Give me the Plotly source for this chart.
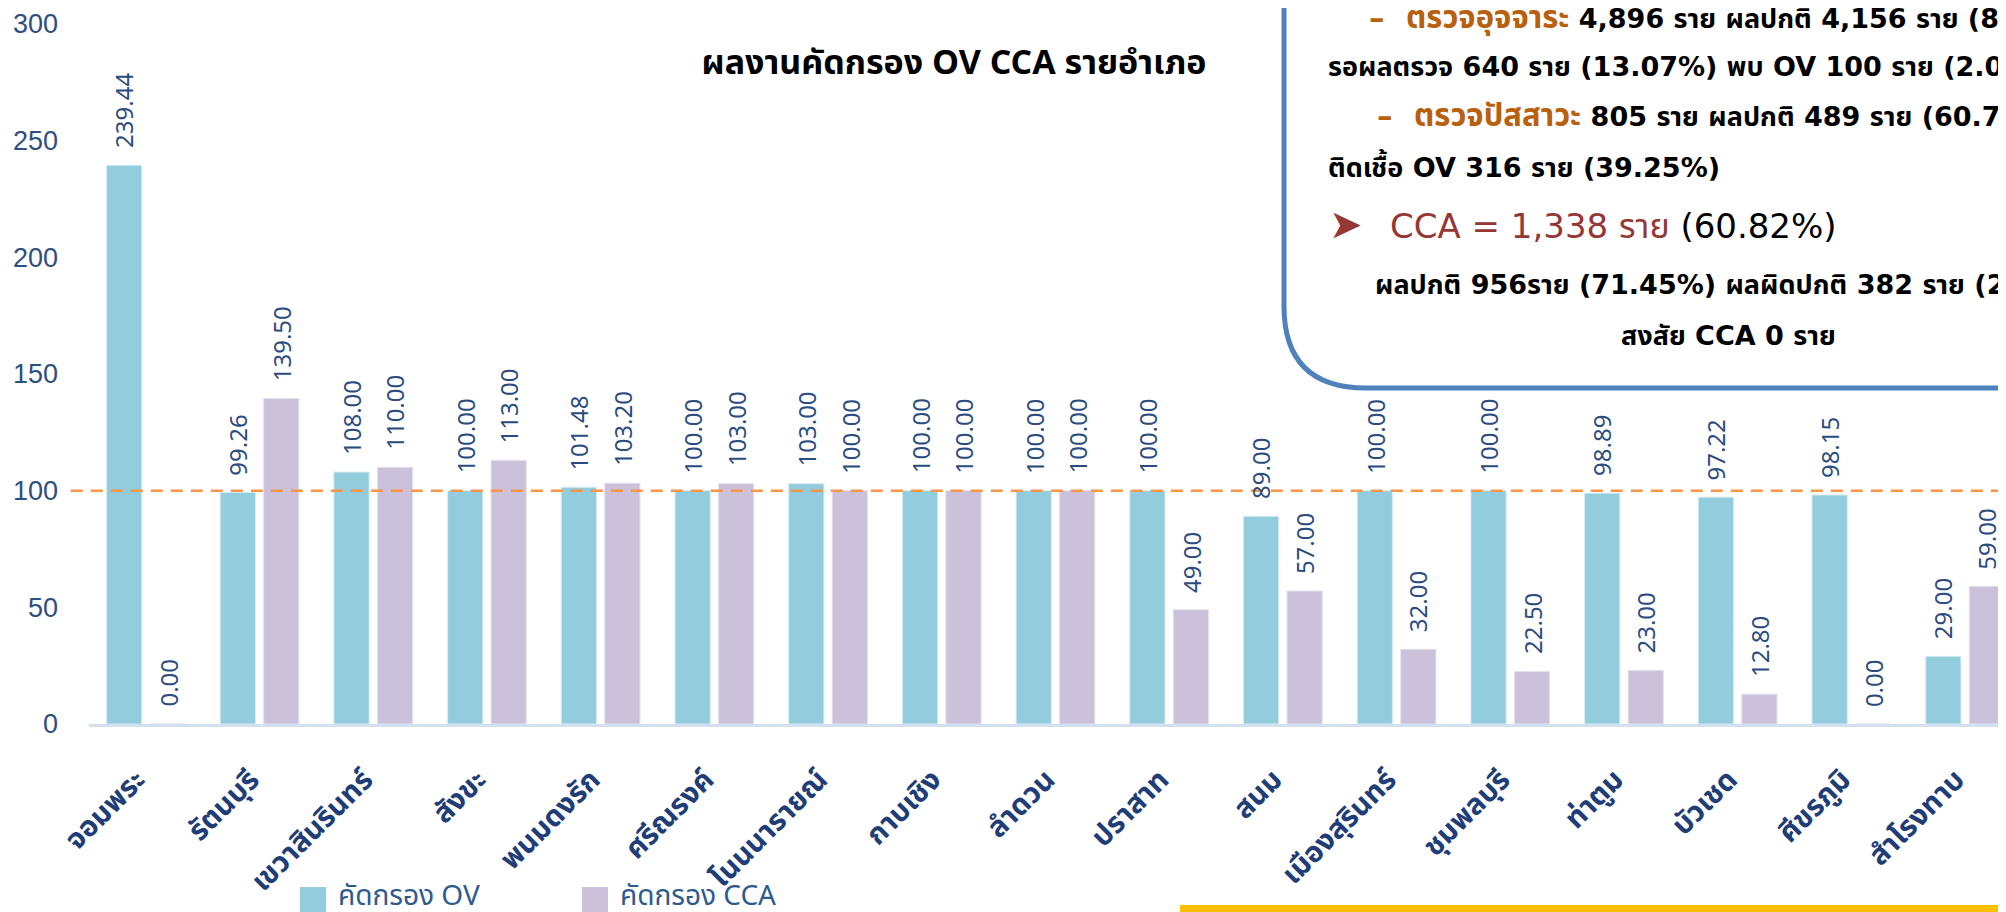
import plotly.graph_objects as go

categories = ["จอมพระ", "รัตนบุรี", "เขวาสินรินทร์", "สังขะ", "พนมดงรัก", "ศรีณรงค์",
              "โนนนารายณ์", "กาบเชิง", "ลำดวน", "ปราสาท", "สนม", "เมืองสุรินทร์",
              "ชุมพลบุรี", "ท่าตูม", "บัวเชด", "ศีขรภูมิ", "สำโรงทาบ"]
ov_values = [239.44, 99.26, 108.00, 100.00, 101.48, 100.00, 103.00, 100.00, 100.00,
             100.00, 89.00, 100.00, 100.00, 98.89, 97.22, 98.15, 29.00]
cca_values = [0.00, 139.50, 110.00, 113.00, 103.20, 103.00, 100.00, 100.00, 100.00,
              49.00, 57.00, 32.00, 22.50, 23.00, 12.80, 0.00, 59.00]
target = 100
series_names = ["คัดกรอง OV", "คัดกรอง CCA"]
y_ticks = [0, 50, 100, 150, 200, 250, 300]

# page is offset by the 8px body margin of the html page
OFF = 8
W, H = 2006 - OFF, 912 - OFF
PL, PR, PT, PB = 89, 2006, 24, 724          # plot area in page pixels
L, R, T = PL - OFF, 0, PT - OFF
B = H - (PB - OFF)
PW, PH = PR - PL, PB - PT

def px(x):
    return (x - PL) / PW

def py(y):
    return (PB - y) / PH

THAI = "Noto Sans Thai, Noto Sans, sans-serif"
BOXF = "DejaVu Sans, Noto Sans Thai, sans-serif"
OV_C = "#93CDDD"
CCA_C = "#CCC1DA"
LABEL_C = "#2B4C7E"

fig = go.Figure()
fig.add_trace(go.Bar(x=categories, y=ov_values, name=series_names[0],
                     marker=dict(color=OV_C, line=dict(color="#D4ECF2", width=1)),
                     showlegend=False, hoverinfo="skip"))
fig.add_trace(go.Bar(x=categories, y=cca_values, name=series_names[1],
                     marker=dict(color=CCA_C, line=dict(color="#E6E0EE", width=1)),
                     showlegend=False, hoverinfo="skip"))

# value labels (rotated) above bars
for vals, shift in ((ov_values, -21.75), (cca_values, 21.75)):
    for c, v in zip(categories, vals):
        fig.add_annotation(x=c, y=v, xref="x", yref="y", text=f"{v:.2f}",
                           textangle=-90, showarrow=False, xanchor="center",
                           yanchor="bottom", xshift=shift, yshift=15,
                           font=dict(family="Noto Sans, Liberation Sans", size=24, color=LABEL_C))

# target dashed line
fig.add_shape(type="line", xref="paper", yref="y", x0=-0.0095, x1=1, y0=target, y1=target,
              line=dict(color="#F79646", width=2.5, dash="12px,8px"), layer="above")

# manual legend
leg = [(300, OV_C, series_names[0]), (582, CCA_C, series_names[1])]
for x0, col, name in leg:
    fig.add_shape(type="rect", xref="paper", yref="paper", x0=px(x0), x1=px(x0 + 26),
                  y0=py(914), y1=py(887), fillcolor=col, line=dict(width=0))
    fig.add_annotation(xref="paper", yref="paper", x=px(x0 + 36), y=py(896), text=name,
                       showarrow=False, xanchor="left", yanchor="middle",
                       font=dict(family=THAI, size=28, color="#2E5B8E"))

# info box (rounded, cut by page edges)
r = 82
bx, by = 1284, 388
path = (f"M {px(bx)} {py(-20)} L {px(bx)} {py(by - r)} "
        f"Q {px(bx)} {py(by)} {px(bx + r)} {py(by)} L {px(2030)} {py(by)}")
fig.add_shape(type="path", xref="paper", yref="paper", path=path,
              line=dict(color="#4F81BD", width=5))

ORANGE = "#B8600D"
RED = "#953735"
NB = "\u00a0"
box_font = dict(family=BOXF, size=27, color="#000000")
HEAD = "font-size:31px;color:" + ORANGE
lines = [
    (1367, 18, f"<b><span style='{HEAD}'>–{NB}{NB}ตรวจอุจจาระ</span> 4,896 ราย ผลปกติ 4,156 ราย (84.89%)</b>", box_font),
    (1326, 67, "<b>รอผลตรวจ 640 ราย (13.07%) พบ OV 100 ราย (2.04%)</b>", box_font),
    (1375, 115, f"<b><span style='{HEAD}'>–{NB}{NB}ตรวจปัสสาวะ</span> 805 ราย ผลปกติ 489 ราย (60.75%)</b>", box_font),
    (1326, 166, "<b>ติดเชื้อ OV 316 ราย (39.25%)</b>", box_font),
    (1388, 226, f"<span style='color:{RED}'>CCA = 1,338 ราย</span> (60.82%)",
     dict(family=BOXF, size=34, color="#000000")),
    (1373, 284, "<b>ผลปกติ 956ราย (71.45%) ผลผิดปกติ 382 ราย (28.55%)</b>", box_font),
]
for x0, y0, txt, f in lines:
    fig.add_annotation(xref="paper", yref="paper", x=px(x0), y=py(y0), text=txt,
                       showarrow=False, xanchor="left", yanchor="middle", font=f)
fig.add_annotation(xref="paper", yref="paper", x=px(1346), y=py(224), text="➤",
                   showarrow=False, xanchor="center", yanchor="middle",
                   font=dict(family="DejaVu Sans", size=40, color=RED))
fig.add_annotation(xref="paper", yref="paper", x=px(1728), y=py(335),
                   text="<b>สงสัย CCA 0 ราย</b>", showarrow=False,
                   xanchor="center", yanchor="middle", font=box_font)

# yellow bottom bar
fig.add_shape(type="rect", xref="paper", yref="paper", x0=px(1180), x1=px(2030),
              y0=py(914), y1=py(905), fillcolor="#FFC000", line=dict(width=0))

fig.update_layout(
    width=W, height=H,
    margin=dict(l=L, r=R, t=T, b=B, pad=0),
    paper_bgcolor="white", plot_bgcolor="white",
    barmode="group", bargap=0.235, bargroupgap=0.19,
    title=dict(text="<b>ผลงานคัดกรอง OV CCA รายอำเภอ</b>", x=px(954), xref="paper",
               y=1 - (62.5 - OFF) / H, yref="container", xanchor="center", yanchor="middle",
               font=dict(family=THAI, size=34, color="#000000")),
    hovermode=False,
    showlegend=False,
)
fig.update_xaxes(range=[-0.5, 16.36], showline=True, linecolor="#D3E0F0", linewidth=3,
                 showgrid=False, zeroline=False, tickangle=-45, ticks="outside",
                 ticklen=24, tickcolor="rgba(0,0,0,0)", ticklabelshift=-9,
                 tickfont=dict(family=THAI, size=29, color="#1F3E78", weight="bold"))
fig.update_yaxes(range=[0, 300], tickvals=y_ticks, showline=False, showgrid=False,
                 zeroline=False, ticks="", ticklabelstandoff=30,
                 tickfont=dict(family="Liberation Sans, Noto Sans", size=27, color="#2E4F80"))

fig.write_html("out.html")
